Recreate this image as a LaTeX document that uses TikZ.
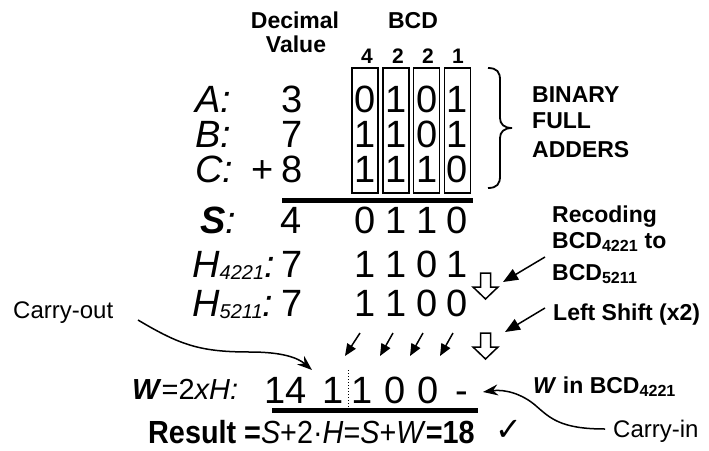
\documentclass[tikz,border=0pt]{standalone}
\usepackage{fontspec}
\setmainfont{Liberation Sans}
\newfontfamily\dejavu{DejaVu Sans}
\newfontfamily\narrowfont[FakeStretch=0.9]{Liberation Sans}
\usetikzlibrary{arrows.meta}
\begin{document}
\begin{tikzpicture}[x=1pt,y=-1pt,
 big/.style={inner sep=0pt, anchor=base, font=\fontsize{38}{38}\selectfont},
 biglab/.style={inner sep=0pt, anchor=base west, font=\fontsize{38}{38}\selectfont\itshape},
 lbl/.style={inner sep=0pt, anchor=base west, font=\fontsize{23}{29}\selectfont\bfseries, align=left},
 head/.style={inner sep=0pt, anchor=base, font=\fontsize{23}{23}\selectfont\bfseries},
 wgt/.style={inner sep=0pt, anchor=base, font=\fontsize{21}{21}\selectfont\bfseries},
 note/.style={inner sep=0pt, anchor=base west, font=\fontsize{24}{24}\selectfont},
 colbox/.style={draw, line width=1.8pt, minimum width=26pt, minimum height=125pt, inner sep=0pt},
 bar/.style={line width=5pt},
 ptr/.style={line width=1.5pt, -{Triangle[length=15pt,width=12pt]}},
 sptr/.style={line width=1.5pt, -{Triangle[length=12pt,width=10pt]}},
 curv/.style={line width=1.5pt, -{Stealth[length=15pt,width=11pt]}},
 hollow/.style={draw, line width=1.5pt, fill=white, line join=miter},
]
\useasboundingbox (0,0) rectangle (709,450);

% headers
\node[head] (dec) at (295,28) {Decimal};
\node[head] (val) at (296,52) {Value};
\node[head] (bcd) at (413,28) {BCD};
\node[wgt] (w1) at (367,63) {4};
\node[wgt] (w2) at (398,63) {2};
\node[wgt] (w3) at (428,63) {2};
\node[wgt] (w4) at (458,63) {1};

% column boxes
\node[colbox] (bx1) at (365,130.5) {};
\node[colbox] (bx2) at (396,130.5) {};
\node[colbox] (bx3) at (426.5,130.5) {};
\node[colbox] (bx4) at (457.5,130.5) {};

% brace
\draw[line width=1.8pt] (488,68) .. controls (497,68) and (500,72) .. (500,80) -- (500,118)
  .. controls (500,124) and (504,128) .. (512,128)
  .. controls (504,128) and (500,132) .. (500,138) -- (500,176)
  .. controls (500,184) and (497,188) .. (488,188);
\node[lbl] (bfa) at (532,157) {BINARY\\[-3pt]FULL\\ADDERS};

% rows A B C
\node[biglab] (la) at (195,112) {A:};
\node[biglab] (lb) at (195,147) {B:};
\node[biglab] (lc) at (195,182) {C:};
\node[big] (da) at (292,112) {3};
\node[big] (db) at (292,147) {7};
\node[big] (dc) at (292,182) {8};
\node[big] (plus) at (263,182) {+};

\node[big] (a1) at (365,112) {0};
\node[big] (a2) at (396,112) {1};
\node[big] (a3) at (427,112) {0};
\node[big] (a4) at (457,112) {1};
\node[big] (b1) at (365,147) {1};
\node[big] (b2) at (396,147) {1};
\node[big] (b3) at (427,147) {0};
\node[big] (b4) at (457,147) {1};
\node[big] (c1) at (365,182) {1};
\node[big] (c2) at (396,182) {1};
\node[big] (c3) at (427,182) {1};
\node[big] (c4) at (457,182) {0};

\draw[bar] (282,200) -- (473,200);

% S row
\node[biglab] (ls) at (200,233) {\textbf{S}:};
\node[big] (ds) at (291,233) {4};
\node[big] (s1) at (365,233) {0};
\node[big] (s2) at (396,233) {1};
\node[big] (s3) at (427,233) {1};
\node[big] (s4) at (457,233) {0};

% H rows
\node[biglab] (lh1) at (192,277) {H\raisebox{-2pt}{\fontsize{20}{20}\selectfont 4221}:};
\node[big] (dh1) at (292,277) {7};
\node[big] (h11) at (365,277) {1};
\node[big] (h12) at (396,277) {1};
\node[big] (h13) at (427,277) {0};
\node[big] (h14) at (457,277) {1};
\node[biglab] (lh2) at (192,316) {H\raisebox{-2pt}{\fontsize{20}{20}\selectfont 5211}:};
\node[big] (dh2) at (292,316) {7};
\node[big] (h21) at (365,316) {1};
\node[big] (h22) at (396,316) {1};
\node[big] (h23) at (427,316) {0};
\node[big] (h24) at (457,316) {0};

% hollow arrows
\draw[hollow] (480.5,273) -- (490.5,273) -- (490.5,287) -- (498,287) -- (485.5,299) -- (473,287) -- (480.5,287) -- cycle;
\draw[hollow] (480.5,333) -- (490.5,333) -- (490.5,347) -- (498,347) -- (485.5,359) -- (473,347) -- (480.5,347) -- cycle;

% recoding / left shift
\node[lbl] (rec) at (552,280) {Recoding\\[-3pt]BCD\textsubscript{4221} to\\[3pt]BCD\textsubscript{5211}};
\node[lbl] (lsh) at (553,320) {Left Shift (x2)};
\coordinate (r1) at (545,257);
\coordinate (r2) at (503,282);
\coordinate (l1) at (545,308);
\coordinate (l2) at (505,332);
\draw[ptr] (r1) -- (r2);
\draw[ptr] (l1) -- (l2);

% small shift arrows
\coordinate (p1) at (360,333); \coordinate (q1) at (345,356);
\coordinate (p2) at (393,333); \coordinate (q2) at (380,356);
\coordinate (p3) at (423,333); \coordinate (q3) at (410,356);
\coordinate (p4) at (453,333); \coordinate (q4) at (440,356);
\draw[sptr] (p1) -- (q1);
\draw[sptr] (p2) -- (q2);
\draw[sptr] (p3) -- (q3);
\draw[sptr] (p4) -- (q4);

% W row
\node[inner sep=0pt, anchor=base west, font=\fontsize{29}{29}\selectfont] (lw) at (132,399) {\textbf{\textit{W}}=2\textit{xH:}};
\node[big] (w14) at (286,403) {14};
\node[big] (wa) at (333,403) {1};
\node[big] (wb) at (362,403) {1};
\node[big] (wc) at (395,403) {0};
\node[big] (wd) at (428,403) {0};
\node[big] (we) at (462,403) {-};
\draw[dotted, line width=1pt] (348,370) -- (348,412);
\draw[bar] (272,410) -- (478,410);
\node[lbl] (win) at (533,393) {\textit{W} in BCD\textsubscript{4221}};

% result
\node[inner sep=0pt, anchor=base west, font=\narrowfont\fontsize{32}{32}\selectfont] (res) at (148,443)
  {\textbf{Result =}\textit{S}+2·\textit{H}=\textit{S}+\textit{W}\textbf{=18}};
\node[inner sep=0pt, anchor=base, font=\dejavu\fontsize{32}{32}\selectfont] (chk) at (509,440) {✓};

% carry notes
\node[note] (cout) at (13,318) {Carry-out};
\node[note] (cin) at (613,437) {Carry-in};
\coordinate (co1) at (138,320);
\coordinate (co2) at (312,370);
\draw[curv] (co1) .. controls (180,345) and (200,352) .. (250,352) .. controls (283,352) and (298,358) .. (co2);
\coordinate (ci1) at (605,429);
\coordinate (ci2) at (483,392);
\draw[curv] (ci1) .. controls (560,429) and (550,418) .. (535,405) .. controls (522,394) and (505,389) .. (ci2);
\end{tikzpicture}
\end{document}
